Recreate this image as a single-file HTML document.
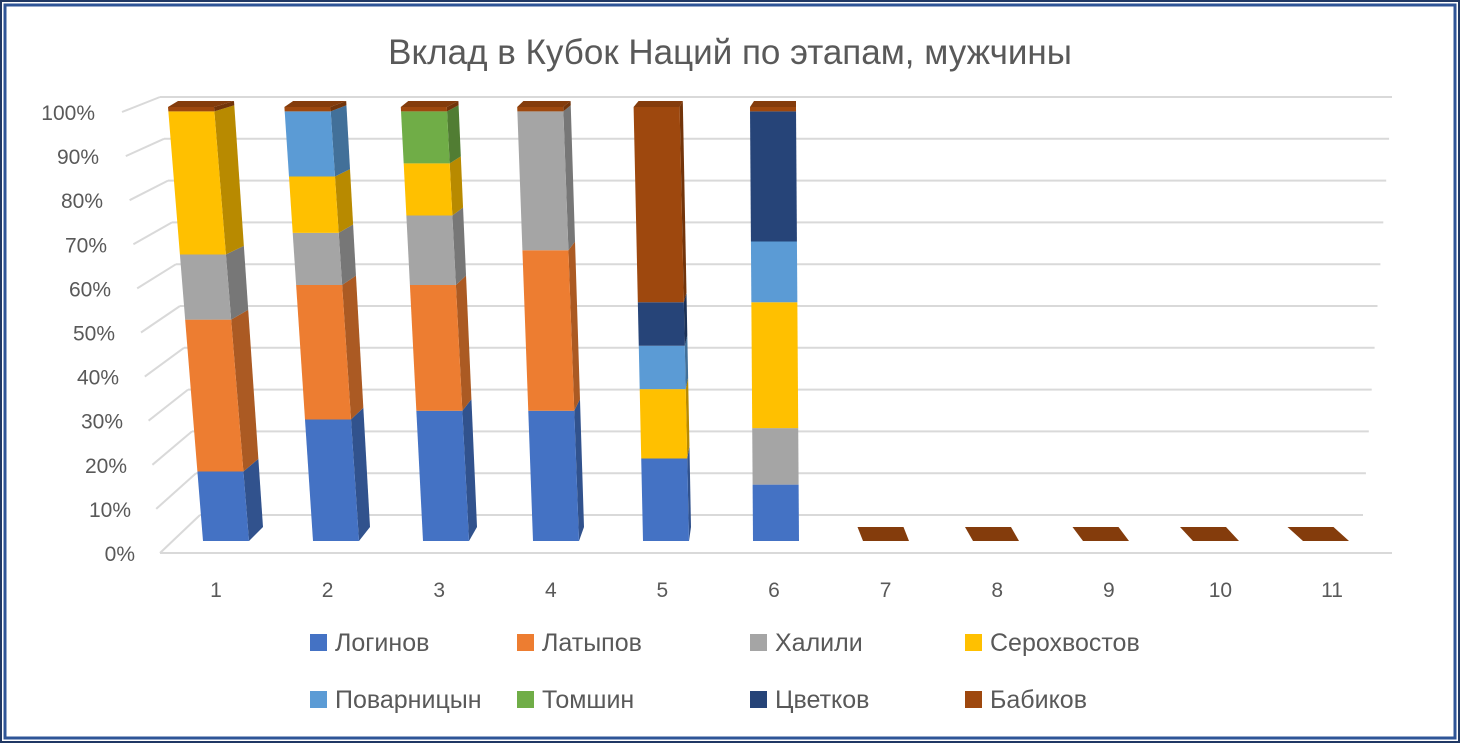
<!DOCTYPE html>
<html><head><meta charset="utf-8"><style>
html,body{margin:0;padding:0;background:#fff;}
svg{display:block;font-family:"Liberation Sans",sans-serif;}
</style></head><body>
<svg id="chart" width="1460" height="743" viewBox="0 0 1460 743">
<rect x="1" y="1" width="1458" height="741" fill="#fff" stroke="#203864" stroke-width="2"/>
<rect x="5" y="5" width="1450" height="733" fill="none" stroke="#2F5597" stroke-width="3"/>
<text x="730" y="64" text-anchor="middle" font-size="35" fill="#595959">Вклад в Кубок Наций по этапам, мужчины</text>
<g id="grid"></g><g id="bars"></g><g id="labels"></g><g id="legend"></g>
</svg>
<script>
const categories=['1','2','3','4','5','6','7','8','9','10','11'];
const seriesNames=['Логинов','Латыпов','Халили','Серохвостов','Поварницын','Томшин','Цветков','Бабиков'];
const colors=['#4472C4','#ED7D31','#A5A5A5','#FFC000','#5B9BD5','#70AD47','#264478','#9E480E'];
const loginov=[16,28,30,30,19,13,0,0,0,0,0];
const latypov=[35,31,29,37,0,0,0,0,0,0,0];
const khalili=[15,12,16,32,0,13,0,0,0,0,0];
const serokh=[33,13,12,0,16,29,0,0,0,0,0];
const povarn=[0,15,0,0,10,14,0,0,0,0,0];
const tomshin=[0,0,12,0,0,0,0,0,0,0,0];
const tsvetkov=[0,0,0,0,10,30,0,0,0,0,0];
const babikov=[1,1,1,1,45,1,0,0,0,0,0];
const yTicks=['0%','10%','20%','30%','40%','50%','60%','70%','80%','90%','100%'];
const series=[loginov,latypov,khalili,serokh,povarn,tomshin,tsvetkov,babikov];
const NS='http://www.w3.org/2000/svg';
function mk(t,a,p){const e=document.createElementNS(NS,t);for(const k in a)e.setAttribute(k,a[k]);p.appendChild(e);return e;}
const grid=document.getElementById('grid'),bars=document.getElementById('bars'),labels=document.getElementById('labels'),legend=document.getElementById('legend');
// grid
yTicks.forEach((t,k)=>{const v=k/(yTicks.length-1);
 const yb=515-418*v,xl=200-40*v,xr=1363+29*v;
 const g=mk('line',{x1:xl,y1:yb,x2:xr,y2:yb,stroke:'#D9D9D9','stroke-width':2},grid);
 
 const d=mk('line',{x1:160-38*v,y1:553-441*v,x2:xl,y2:yb,stroke:'#D9D9D9','stroke-width':2},grid);
 
 const tx=mk('text',{x:135-40*v,y:561-441*v,'text-anchor':'end','font-size':21,fill:'#595959'},labels);
 tx.textContent=t;
});
const fl=mk('line',{x1:160,y1:553,x2:1392,y2:553,stroke:'#D9D9D9','stroke-width':2},grid);

function shade(c,f){const n=parseInt(c.slice(1),16);const r=Math.round(((n>>16)&255)*f),g=Math.round(((n>>8)&255)*f),b=Math.round((n&255)*f);return `rgb(${r},${g},${b})`;}
const Y0=541,Y1=107,W=46;
categories.forEach((c,i)=>{
 const tL=168+116.4*i,bL=203+110*i;
 const total=series.reduce((s,a)=>s+a[i],0);
 const tS=Math.max(0,20-4.2*i),bS=Math.max(0,14-3*i);
 const xl=f=>bL+(tL-bL)*f, yv=f=>Y0-(Y0-Y1)*f;
 const sx=f=>bS+(tS-bS)*f, sy=f=>-14+8*f;
 if(total===0){
  const dx=-(i-5)*2.5;
  const p=mk('polygon',{points:`${bL},${Y0} ${bL+W},${Y0} ${bL+W+dx-3},${Y0-14} ${bL+dx-3},${Y0-14}`,fill:'#843C0C'},bars);
  
 } else {
  let acc=0;
  series.forEach((s,j)=>{const v=s[i];if(!v)return;
   const f0=acc/total,f1=(acc+v)/total;acc+=v;
   if(sx(f0)>0.5){const side=mk('polygon',{points:`${xl(f0)+W},${yv(f0)} ${xl(f0)+W+sx(f0)},${yv(f0)+sy(f0)} ${xl(f1)+W+sx(f1)},${yv(f1)+sy(f1)} ${xl(f1)+W},${yv(f1)}`,fill:shade(colors[j],0.72)},bars);
    }
   const fr=mk('polygon',{points:`${xl(f0)},${yv(f0)} ${xl(f0)+W},${yv(f0)} ${xl(f1)+W},${yv(f1)} ${xl(f1)},${yv(f1)}`,fill:colors[j]},bars);
   
  });
  const s=sx(1),tp=mk('polygon',{points:`${tL},${Y1} ${tL+W},${Y1} ${tL+W+s},${Y1-6} ${tL+s*0.3+4},${Y1-6}`,fill:'#843C0C'},bars);
  
 }
 const xt=mk('text',{x:216+111.6*i,y:597,'text-anchor':'middle','font-size':21,fill:'#595959'},labels);
 xt.textContent=c;
});
const lx=[310,517,750,965];
seriesNames.forEach((n,j)=>{const x=lx[j%4],y=j<4?643:700;
 const r=mk('rect',{x:x,y:y-9,width:17,height:17,fill:colors[j]},legend);
 
 const t=mk('text',{x:x+25,y:y+8,'font-size':25,fill:'#595959'},legend);
 t.textContent=n;
});
</script>
</body></html>
